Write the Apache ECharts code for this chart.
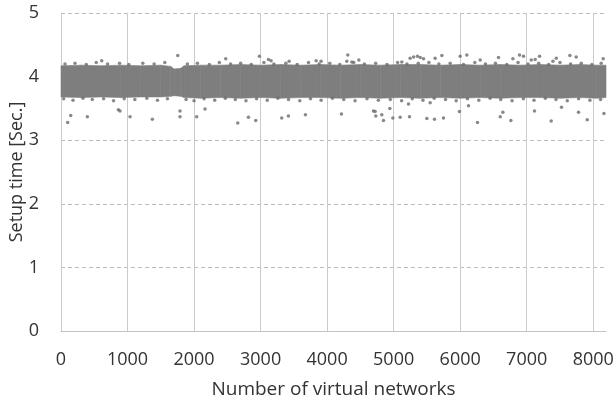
<!DOCTYPE html>
<html>
<head>
<meta charset="utf-8">
<script src="https://cdn.jsdelivr.net/npm/echarts@6/dist/echarts.min.js"></script>
<style>
  html, body { margin: 0; padding: 0; background: #fff; }
  #chart { width: 615px; height: 402px; }
</style>
</head>
<body>
<div id="chart"></div>
<script>
// x ticks / y ticks
var xTicks = [0, 1000, 2000, 3000, 4000, 5000, 6000, 7000, 8000];
var yTicks = [0, 1, 2, 3, 4, 5];

// dense part of the cloud: lower and upper edge, read along x
var bandNet  = [0, 300, 600, 900, 1200, 1500, 1650, 1700, 1800, 1850, 2100, 2400, 2700, 3000, 3300, 3600, 3900, 4200, 4500, 4800, 5100, 5400, 5700, 6000, 6300, 6600, 6900, 7200, 7500, 7800, 8050, 8192];
var bandLow  = [3.68, 3.67, 3.68, 3.67, 3.68, 3.68, 3.69, 3.70, 3.69, 3.67, 3.66, 3.67, 3.66, 3.67, 3.66, 3.67, 3.67, 3.66, 3.67, 3.66, 3.67, 3.66, 3.67, 3.66, 3.67, 3.66, 3.67, 3.67, 3.66, 3.67, 3.66, 3.67];
var bandHigh = [4.17, 4.18, 4.17, 4.18, 4.17, 4.18, 4.16, 4.12, 4.13, 4.17, 4.18, 4.18, 4.19, 4.18, 4.19, 4.18, 4.19, 4.18, 4.19, 4.18, 4.19, 4.19, 4.18, 4.19, 4.18, 4.19, 4.18, 4.19, 4.18, 4.19, 4.18, 4.18];

// loose points on the ragged edges of the cloud
var topEdge = [[60,4.20],[210,4.21],[380,4.19],[530,4.22],[700,4.20],[880,4.21],[1020,4.19],[1230,4.21],[1400,4.20],[1560,4.22],
  [1900,4.20],[2050,4.21],[2230,4.19],[2380,4.22],[2550,4.20],[2700,4.21],[2860,4.19],[3050,4.22],[3200,4.20],[3380,4.21],
  [3550,4.19],[3720,4.22],[3880,4.20],[4040,4.21],[4190,4.19],[4400,4.22],[4560,4.20],[4730,4.21],[4900,4.19],[5060,4.22],
  [5200,4.20],[5370,4.21],[5530,4.22],[5680,4.20],[5850,4.21],[6050,4.19],[6220,4.22],[6380,4.20],[6530,4.21],[6700,4.19],
  [6870,4.22],[7020,4.20],[7180,4.21],[7330,4.19],[7500,4.22],[7660,4.20],[7820,4.21],[7980,4.19],[8120,4.21]];
var bottomEdge = [[40,3.65],[180,3.63],[330,3.66],[470,3.64],[640,3.65],[790,3.62],[950,3.65],[1110,3.64],[1290,3.66],[1450,3.63],
  [1600,3.65],[1880,3.64],[2000,3.62],[2150,3.65],[2310,3.63],[2470,3.66],[2620,3.64],[2780,3.62],[2940,3.65],[3100,3.63],
  [3260,3.66],[3420,3.64],[3590,3.62],[3750,3.65],[3910,3.63],[4080,3.66],[4250,3.64],[4420,3.62],[4600,3.65],[4770,3.63],
  [4950,3.64],[5120,3.62],[5280,3.65],[5440,3.63],[5610,3.66],[5780,3.64],[5940,3.62],[6110,3.65],[6280,3.63],[6450,3.66],
  [6610,3.64],[6780,3.62],[6950,3.65],[7110,3.63],[7280,3.66],[7440,3.64],[7610,3.62],[7780,3.65],[7950,3.63],[8110,3.64]];

// isolated points above and below the cloud
var outliers = [[100,3.28],[146,3.39],[396,3.37],[862,3.48],[887,3.46],[1038,3.37],[1373,3.33],[1789,3.46],[1789,3.37],[2040,3.37],
  [612,4.25],[1755,4.33],
  [2165,3.49],[2657,3.27],[2817,3.36],[2927,3.31],[3318,3.35],[3418,3.38],[3674,3.40],[4215,3.41],[4697,3.46],[4722,3.45],
  [4732,3.38],[4822,3.40],[4847,3.31],[4943,3.50],[4988,3.35],[5098,3.36],[5238,3.37],[5223,3.57],
  [2476,4.28],[2982,4.32],[3118,4.27],[3158,4.25],[3429,4.24],[3835,4.25],[3910,4.24],[4311,4.34],[4296,4.24],[4371,4.23],
  [4477,4.26],[5123,4.23],[5248,4.29],[5300,4.31],[5358,4.32],[5400,4.30],
  [5499,3.34],[5614,3.33],[5749,3.35],[5549,3.59],[5989,3.45],[6125,3.54],[6260,3.28],[6602,3.37],[6642,3.44],[6762,3.31],
  [7117,3.46],[7368,3.30],[7523,3.52],[7779,3.44],[7910,3.32],[8161,3.42],
  [5449,4.28],[5624,4.29],[5725,4.33],[6000,4.32],[6100,4.34],[6301,4.26],[6576,4.30],[6792,4.28],[6892,4.34],[6952,4.32],
  [7068,4.26],[7128,4.27],[7193,4.32],[7394,4.24],[7444,4.29],[7649,4.33],[7744,4.31],[8150,4.28]];

var dotColor = '#6b6b6b';
var bandColor = '#7e7e7e';
var textColor = '#333333';
var fontName = 'Open Sans';

// one band segment per pair of neighbouring edge readings
var bandSegments = [];
for (var i = 0; i < bandNet.length - 1; i++) {
    bandSegments.push([bandNet[i], bandLow[i], bandHigh[i], bandNet[i + 1], bandLow[i + 1], bandHigh[i + 1]]);
}

function renderBand(params, api) {
    var p0 = api.coord([api.value(0), api.value(1)]);
    var p1 = api.coord([api.value(3), api.value(4)]);
    var p2 = api.coord([api.value(3), api.value(5)]);
    var p3 = api.coord([api.value(0), api.value(2)]);
    return {
        type: 'polygon',
        shape: { points: [p0, p1, p2, p3] },
        style: { fill: bandColor, stroke: bandColor, lineWidth: 0.6 }
    };
}

var dom = document.getElementById('chart');
var myChart = echarts.init(dom, null, { renderer: 'canvas' });

var option = {
    animation: false,
    backgroundColor: '#fff',
    grid: { left: 61, right: 9, top: 13, bottom: 71, containLabel: false, outerBoundsMode: 'none' },
    xAxis: {
        type: 'value',
        min: xTicks[0],
        max: 8192,
        interval: 1000,
        name: 'Number of virtual networks',
        nameLocation: 'middle',
        nameGap: 49,
        nameTextStyle: { fontFamily: fontName, fontSize: 19, color: textColor },
        axisLine: { show: true, lineStyle: { color: '#c2c2c2', width: 1 } },
        axisTick: { show: false },
        axisLabel: {
            fontFamily: fontName, fontSize: 18, color: textColor, margin: 20, showMaxLabel: false,
            formatter: function (v) { return String(v); }
        },
        splitLine: { show: true, showMaxLine: false, lineStyle: { color: '#cbcbcb', width: 1, type: 'solid' } }
    },
    yAxis: {
        type: 'value',
        min: yTicks[0],
        max: yTicks[yTicks.length - 1],
        interval: 1,
        name: 'Setup time [Sec.]',
        nameLocation: 'middle',
        nameGap: 35,
        nameMoveOverlap: false,
        nameTextStyle: { fontFamily: fontName, fontSize: 18, color: textColor },
        axisLine: { show: false },
        axisTick: { show: false },
        axisLabel: { fontFamily: fontName, fontSize: 18, color: textColor, margin: 22 },
        splitLine: { show: true, showMinLine: false, lineStyle: { color: '#bdbdbd', width: 1, type: [4, 3] } }
    },
    series: [
        {
            name: 'band',
            type: 'custom',
            renderItem: renderBand,
            data: bandSegments,
            encode: { x: [0, 3], y: [1, 2, 4, 5] },
            silent: true,
            z: 2
        },
        {
            name: 'edge',
            type: 'scatter',
            data: topEdge.concat(bottomEdge),
            symbolSize: 3.5,
            itemStyle: { color: dotColor },
            z: 3
        },
        {
            name: 'outliers',
            type: 'scatter',
            data: outliers,
            symbolSize: 3.5,
            itemStyle: { color: dotColor },
            z: 3
        }
    ]
};

if (option && typeof option === 'object') {
    myChart.setOption(option, true);
}
</script>
</body>
</html>
